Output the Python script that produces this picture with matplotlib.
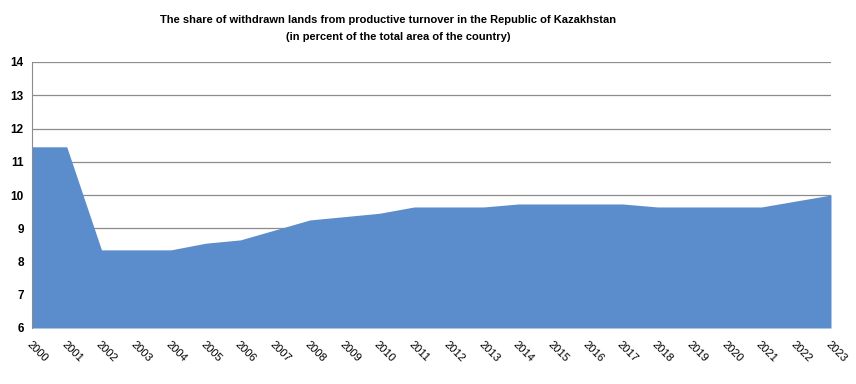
import matplotlib
matplotlib.use("Agg")
import matplotlib.pyplot as plt

years = list(range(2000, 2024))
year_labels = [str(y) for y in years]
share = [11.45, 11.45, 8.35, 8.35, 8.35, 8.55, 8.65, 8.95, 9.25, 9.35, 9.45, 9.64,
         9.64, 9.64, 9.73, 9.73, 9.73, 9.73, 9.64, 9.64, 9.64, 9.64, 9.82, 10.0]
y_ticks = [6, 7, 8, 9, 10, 11, 12, 13, 14]

fig = plt.figure(figsize=(8.56, 3.84), dpi=100)
ax = fig.add_axes([32/856, 56/384, (831-32)/856, (328-62)/384])

ax.fill_between(years, share, 6, color="#5b8dcc", linewidth=0, zorder=2)
ax.set_xlim(2000, 2023)
ax.set_ylim(6, 14)
ax.set_yticks(y_ticks)
ax.set_yticklabels([str(t) for t in y_ticks], fontsize=8.5, fontweight="bold",
                   family="Liberation Sans")
ax.yaxis.grid(True, color="#8c8c8c", linewidth=0.9, zorder=1)
ax.set_xticks(years)
ax.set_xticklabels(year_labels, rotation=-45, ha="left", va="top",
                   rotation_mode="anchor", fontsize=8, family="Liberation Sans")
ax.tick_params(axis="both", length=0)
ax.tick_params(axis="x", pad=8)
ax.tick_params(axis="y", pad=6)
for s in ["top", "right", "bottom"]:
    ax.spines[s].set_visible(False)
ax.spines["left"].set_color("#8c8c8c")

fig.text(388/856, 1-20/384, "The share of withdrawn lands from productive turnover in the Republic of Kazakhstan",
         ha="center", va="center", fontsize=8, fontweight="bold", family="Liberation Sans")
fig.text(398/856, 1-37/384, "(in percent of the total area of the country)",
         ha="center", va="center", fontsize=8, fontweight="bold", family="Liberation Sans")

fig.savefig("out.png", dpi=100)
